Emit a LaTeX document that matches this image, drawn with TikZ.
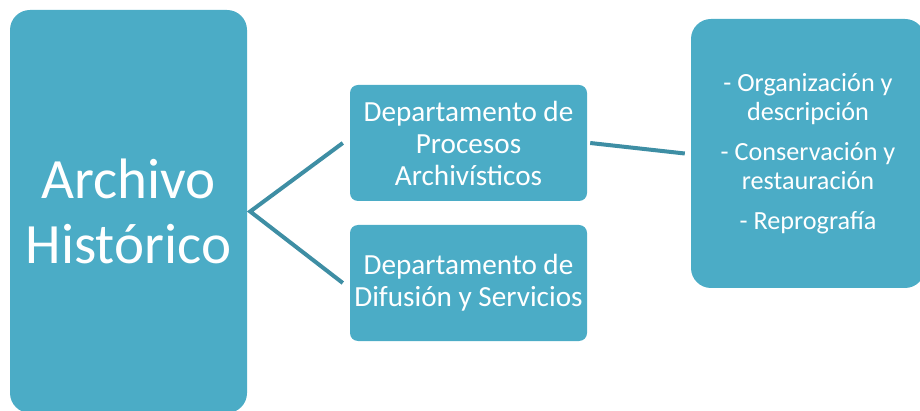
\documentclass[tikz,border=0pt]{standalone}
\usepackage{fontspec}
\setmainfont{Carlito}
\definecolor{boxfill}{HTML}{4BACC6}
\definecolor{linkcol}{HTML}{3E8EA4}
\begin{document}
\begin{tikzpicture}[x=1pt,y=1pt,
  box/.style={fill=boxfill,draw=none,text=white,align=center,inner sep=0pt},
  bigbox/.style={box,rounded corners=20pt},
  deptbox/.style={box,rounded corners=8pt,minimum width=237pt,minimum height=116pt,
     font=\fontsize{29.2}{32}\selectfont},
  link/.style={draw=linkcol,line width=4pt}]
\useasboundingbox (0,0) rectangle (920,-411);
\begin{scope}
\clip (0,0) rectangle (920,-411);
\node[bigbox,minimum width=237pt,minimum height=403pt,font=\fontsize{57}{65}\selectfont]
  (arch) at (128.5,-211.5) {Archivo\\Histórico};
\node[deptbox] (p1) at (468.5,-143) {Departamento de\\Procesos\\Archivísticos};
\node[deptbox] (p2) at (468.5,-283) {Departamento de\\Difusión y Servicios};
\node[bigbox,minimum width=234pt,minimum height=269pt,font=\fontsize{26.2}{29}\selectfont]
  (tasks) at (808,-153.5) {- Organización y\\descripción\\[11pt]- Conservación y\\restauración\\[11pt]- Reprografía};
\end{scope}
\coordinate (j) at ([xshift=3pt]arch.east);
\draw[link] (p1.west) ++(-7,0) coordinate (p1in) -- (j) -- ([xshift=-7pt]p2.west) coordinate (p2in);
\draw[link] ([xshift=3pt]p1.east) -- ([xshift=-6pt]tasks.west);
\end{tikzpicture}
\end{document}
